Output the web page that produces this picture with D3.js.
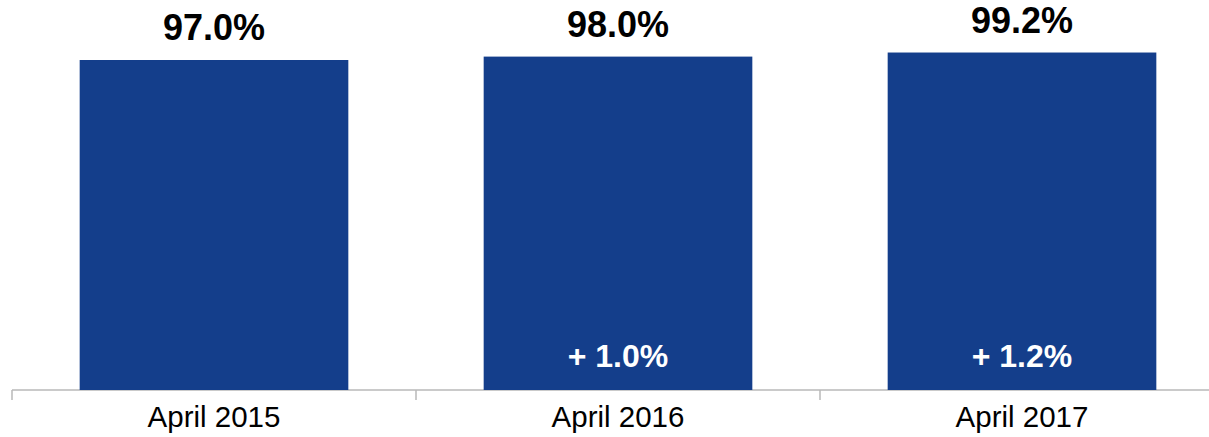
<!DOCTYPE html>
<meta charset="utf-8">
<style>
body{ margin:0; background:#fff; }
text{ font-family: "Liberation Sans", Arial, Helvetica, sans-serif; }
.domain, .tick line{ stroke:#b8b8b8; stroke-width:1.5px; }
</style>
<body>
<script src="https://cdn.jsdelivr.net/npm/d3@7"></script>
<script>

var categories = ["April 2015", "April 2016", "April 2017"];
var values = [97.0, 98.0, 99.2];
var changes = ["", "+ 1.0%", "+ 1.2%"];

var data = categories.map((c,i)=>({cat:c, val:values[i], chg:changes[i]}));

var W = 1209, H = 437;
var svg = d3.select("body").append("svg").attr("width", W).attr("height", H);

var x = d3.scaleBand()
	.domain(categories)
	.range([12, 1224])
	.paddingInner(0.335)
	.paddingOuter(0.1675);

var y = d3.scaleLinear()
	.domain([0, 100])
	.range([390, 49.8]);

// axis line with ticks between categories
var axis = d3.axisBottom(x).tickSize(0).tickFormat("");
svg.append("g").attr("transform","translate(0,390)").call(axis)
	.select(".domain").attr("d","M12,0H1224");

svg.append("g").selectAll("line")
	.data(d3.range(categories.length+1))
	.enter().append("line")
	.attr("x1", i=>12 + i*x.step())
	.attr("x2", i=>12 + i*x.step())
	.attr("y1", 390).attr("y2", 400)
	.attr("stroke","#b8b8b8").attr("stroke-width",1.5);

svg.selectAll(".bar")
	.data(data)
	.enter().append("rect")
	.attr("class","bar")
	.attr("x", d=>x(d.cat))
	.attr("y", d=>y(d.val))
	.attr("width", x.bandwidth())
	.attr("height", d=>y(0)-y(d.val))
	.attr("fill","#143e8b");

svg.selectAll(".val")
	.data(data)
	.enter().append("text")
	.attr("class","val")
	.attr("x", d=>x(d.cat)+x.bandwidth()/2)
	.attr("y", d=>y(d.val)-20)
	.attr("text-anchor","middle")
	.style("font-size","36px")
	.style("font-weight","bold")
	.attr("fill","#000")
	.text(d=>d3.format(".1f")(d.val)+"%");

svg.selectAll(".chg")
	.data(data.filter(d=>d.chg))
	.enter().append("text")
	.attr("class","chg")
	.attr("x", d=>x(d.cat)+x.bandwidth()/2)
	.attr("y", 367)
	.attr("text-anchor","middle")
	.style("font-size","32px")
	.style("font-weight","bold")
	.attr("fill","#fff")
	.text(d=>d.chg);

svg.selectAll(".cat")
	.data(data)
	.enter().append("text")
	.attr("class","cat")
	.attr("x", d=>x(d.cat)+x.bandwidth()/2)
	.attr("y", 427)
	.attr("text-anchor","middle")
	.style("font-size","29.5px")
	.attr("fill","#000")
	.text(d=>d.cat);

</script>
</body>
</html>
